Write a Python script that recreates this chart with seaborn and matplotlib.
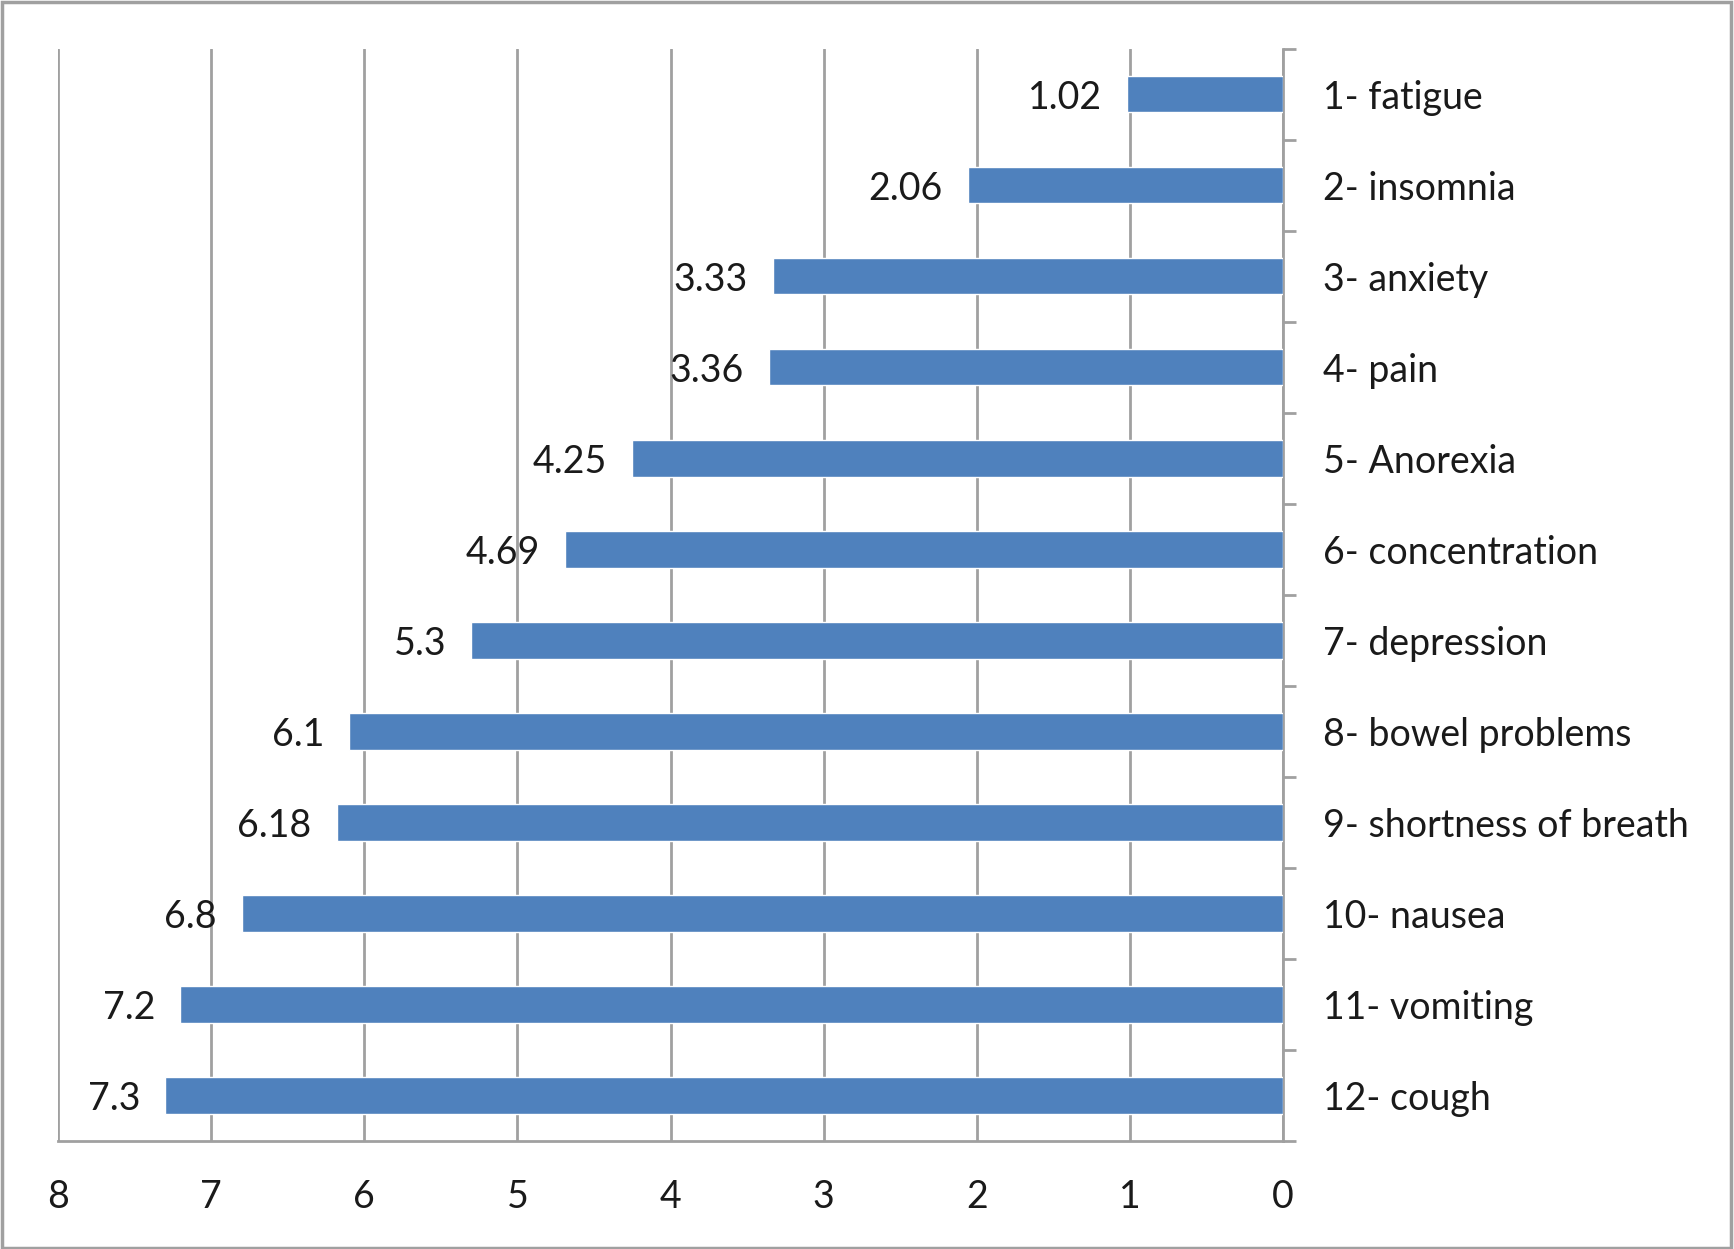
import pandas as pd
import seaborn as sns
import matplotlib.pyplot as plt
from matplotlib.patches import Rectangle
from matplotlib.ticker import FixedLocator

# symptom scores
symptoms = ['1- fatigue', '2- insomnia', '3- anxiety', '4- pain', '5- Anorexia',
            '6- concentration', '7- depression', '8- bowel problems',
            '9- shortness of breath', '10- nausea', '11- vomiting', '12- cough']
scores = [1.02, 2.06, 3.33, 3.36, 4.25, 4.69, 5.3, 6.1, 6.18, 6.8, 7.2, 7.3]
x_ticks = [0, 1, 2, 3, 4, 5, 6, 7, 8]

df = pd.DataFrame({'Symptom': symptoms, 'Score': scores})

sns.set_style('white')
plt.rcParams['font.family'] = ['Lato', 'DejaVu Sans']

grey = '#a0a0a0'
txt = '#1a1a1a'

fig = plt.figure(figsize=(17.34, 12.49), dpi=100)
ax = fig.add_axes([0.0334, 0.0865, 0.7066, 0.8745])

sns.barplot(data=df, x='Score', y='Symptom', orient='h', color='#4f81bd',
            width=0.4, saturation=1, ax=ax, zorder=3)

ax.set_xlim(8, 0)
ax.set_ylim(11.5, -0.5)
ax.set_xticks(x_ticks)
ax.xaxis.grid(True, color=grey, linewidth=2)
ax.set_axisbelow(True)

# category axis on the right, ticks between categories
ax.yaxis.tick_right()
ax.yaxis.set_label_position('right')
ax.yaxis.set_minor_locator(FixedLocator([i - 0.5 for i in range(len(symptoms) + 1)]))
ax.tick_params(axis='y', which='major', length=0, pad=29, labelsize=27, labelcolor=txt)
ax.tick_params(axis='y', which='minor', length=9.5, width=2, color=grey, direction='out', right=True, left=False)
ax.tick_params(axis='x', which='major', length=9.5, width=2, color=grey, direction='out', pad=18, labelsize=27, labelcolor=txt)

for side in ['top', 'left']:
    ax.spines[side].set_visible(False)
for side in ['bottom', 'right']:
    ax.spines[side].set_color(grey)
    ax.spines[side].set_linewidth(2)

ax.set_xlabel('')
ax.set_ylabel('')

labels = ax.bar_label(ax.containers[0], fmt='%g', padding=18, fontsize=27, color=txt)
for t in labels:
    t.set_va('center_baseline')

# border around the whole chart
fig.patches.append(Rectangle((0.001, 0.001), 0.997, 0.997, transform=fig.transFigure,
                             fill=False, edgecolor=grey, linewidth=2.5))

fig.savefig('out.png', dpi=100)
